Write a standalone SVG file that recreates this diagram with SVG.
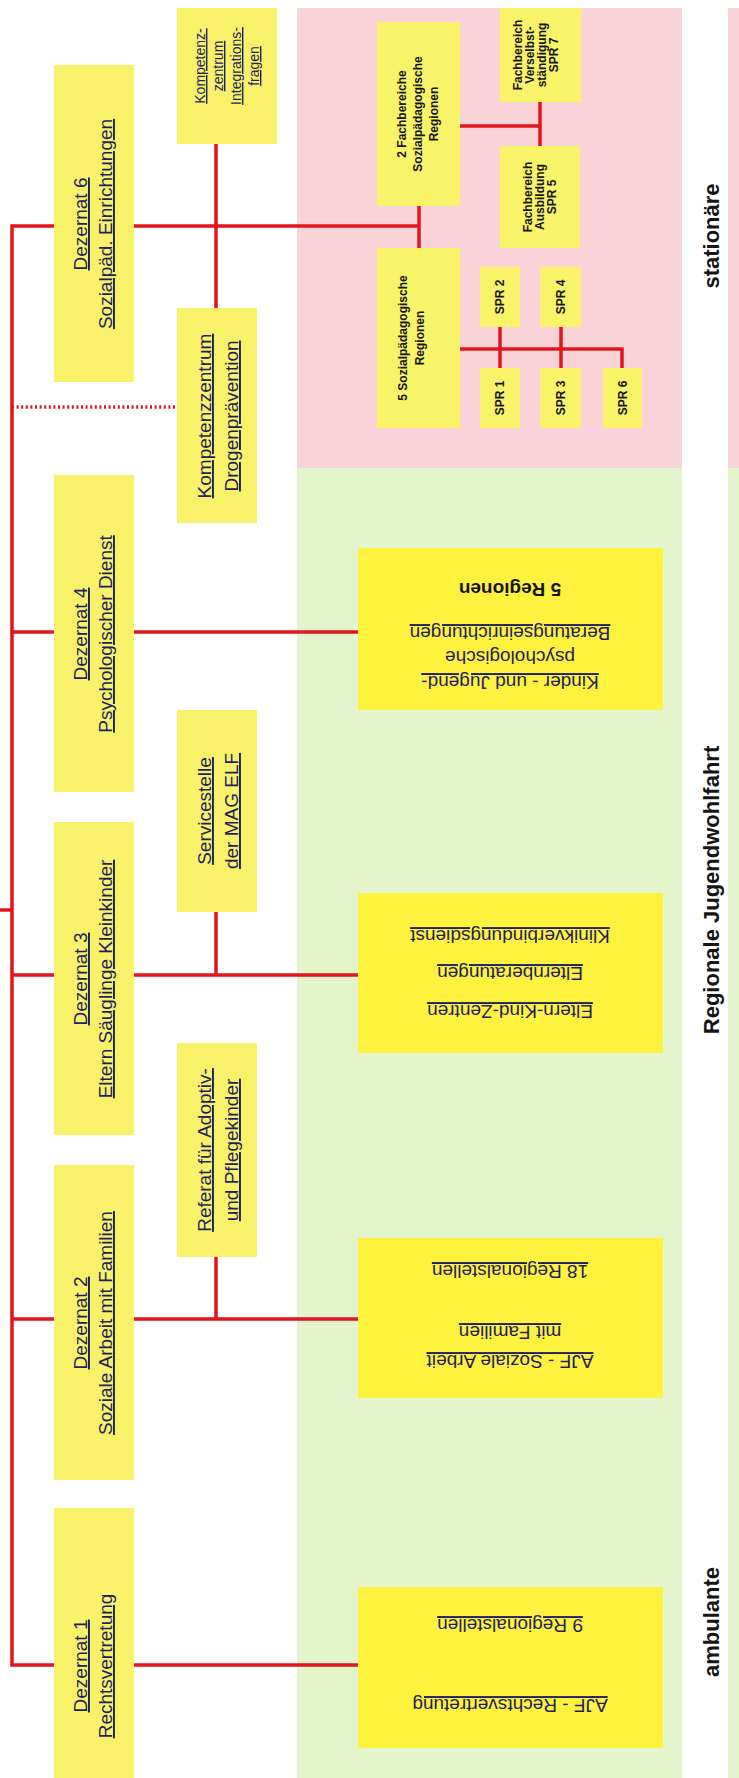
<svg xmlns="http://www.w3.org/2000/svg" width="739" height="1778" viewBox="0 0 739 1778">
<style>
.dz{fill:#f9f16a}
.bx{fill:#fff23f}
.sb{fill:#f9f36a}
.t{font-family:"Liberation Sans",Arial,sans-serif;font-size:19px;fill:#1f1f5c;text-anchor:middle}
.u{text-decoration:underline}
.sm{font-size:14px}
.b{font-weight:bold;fill:#151515}
.s{font-size:12px}
.lbl{font-family:"Liberation Sans",Arial,sans-serif;font-size:22px;font-weight:bold;fill:#151515;text-anchor:middle}
.c{stroke:#e2141c;stroke-width:3.5;fill:none}
.d{stroke:#e2141c;stroke-width:3.5;fill:none;stroke-dasharray:2 2.6}
</style>
<rect width="739" height="1778" fill="#ffffff"/>
<g id="bands">
<rect x="297" y="8" width="385" height="460" fill="#f8d4d8"/>
<rect x="297" y="468" width="385" height="1310" fill="#e4f4cb"/>
<rect x="728" y="8" width="11" height="460" fill="#f8d4d8"/>
<rect x="728" y="468" width="11" height="1310" fill="#e4f4cb"/>
</g>
<g id="connectors">
<path class="c" d="M54,226 H12 V1665 H54"/>
<path class="c" d="M0,910 H12"/>
<path class="c" d="M134,226 H419 M419,206 V248 M216,144 V308"/>
<path class="d" d="M12,407 H177"/>
<path class="c" d="M12,632 H54 M134,632 H358"/>
<path class="c" d="M12,975 H54 M134,975 H358 M216,912 V975"/>
<path class="c" d="M12,1319 H54 M134,1319 H358 M216,1257 V1319"/>
<path class="c" d="M134,1665 H358"/>
<path class="c" d="M460,126 H540 M540,102 V146"/>
<path class="c" d="M460,349 H622 V368 M500,327 V368 M561,327 V368"/>
</g>
<g id="dezernat6">
<rect class="dz" x="54" y="65" width="80" height="317"/>
<text class="t u" transform="translate(87,224) rotate(-90)">Dezernat 6</text>
<text class="t u" transform="translate(112,224) rotate(-90)">Sozialpäd. Einrichtungen</text>
</g>
<g id="dezernat4">
<rect class="dz" x="54" y="475" width="80" height="317"/>
<text class="t u" transform="translate(87,634) rotate(-90)">Dezernat 4</text>
<text class="t u" transform="translate(112,634) rotate(-90)">Psychologischer Dienst</text>
</g>
<g id="dezernat3">
<rect class="dz" x="54" y="822" width="80" height="313"/>
<text class="t u" transform="translate(87,979) rotate(-90)">Dezernat 3</text>
<text class="t u" transform="translate(112,979) rotate(-90)">Eltern Säuglinge Kleinkinder</text>
</g>
<g id="dezernat2">
<rect class="dz" x="54" y="1165" width="80" height="315"/>
<text class="t u" transform="translate(87,1323) rotate(-90)">Dezernat 2</text>
<text class="t u" transform="translate(112,1323) rotate(-90)">Soziale Arbeit mit Familien</text>
</g>
<g id="dezernat1">
<rect class="dz" x="54" y="1508" width="80" height="270"/>
<text class="t u" transform="translate(87,1666) rotate(-90)">Dezernat 1</text>
<text class="t u" transform="translate(112,1666) rotate(-90)">Rechtsvertretung</text>
</g>
<g id="komp-integration">
<rect class="dz" x="177" y="8" width="100" height="136"/>
<text class="t u sm" transform="translate(205,66) rotate(-90)">Kompetenz-</text>
<text class="t u sm" transform="translate(223,66) rotate(-90)">zentrum</text>
<text class="t u sm" transform="translate(241,66) rotate(-90)">Integrations-</text>
<text class="t u sm" transform="translate(259,66) rotate(-90)">fragen</text>
</g>
<g id="komp-drogen">
<rect class="dz" x="177" y="308" width="80" height="215"/>
<text class="t u" transform="translate(211,416) rotate(-90)">Kompetenzzentrum</text>
<text class="t u" transform="translate(238,416) rotate(-90)">Drogenprävention</text>
</g>
<g id="servicestelle">
<rect class="dz" x="177" y="710" width="80" height="202"/>
<text class="t u" transform="translate(211,811) rotate(-90)">Servicestelle</text>
<text class="t u" transform="translate(238,811) rotate(-90)">der MAG ELF</text>
</g>
<g id="referat">
<rect class="dz" x="177" y="1043" width="80" height="214"/>
<text class="t u" transform="translate(211,1150) rotate(-90)">Referat für Adoptiv-</text>
<text class="t u" transform="translate(238,1150) rotate(-90)">und Pflegekinder</text>
</g>
<g id="fachbereiche2">
<rect class="sb" x="377" y="22" width="83" height="184"/>
<text class="t b s" transform="translate(406,114) rotate(-90)">2 Fachbereiche</text>
<text class="t b s" transform="translate(422,114) rotate(-90)">Sozialpädagogische</text>
<text class="t b s" transform="translate(438,114) rotate(-90)">Regionen</text>
</g>
<g id="regionen5">
<rect class="sb" x="377" y="248" width="83" height="180"/>
<text class="t b s" transform="translate(407,338) rotate(-90)">5 Sozialpädagogische</text>
<text class="t b s" transform="translate(424,338) rotate(-90)">Regionen</text>
</g>
<g id="spr7">
<rect class="sb" x="500" y="8" width="81" height="94"/>
<text class="t b s" transform="translate(522,55) rotate(-90)">Fachbereich</text>
<text class="t b s" transform="translate(534,55) rotate(-90)">Verselbst-</text>
<text class="t b s" transform="translate(546,55) rotate(-90)">ständigung</text>
<text class="t b s" transform="translate(558,55) rotate(-90)">SPR 7</text>
</g>
<g id="spr5">
<rect class="sb" x="500" y="146" width="80" height="102"/>
<text class="t b s" transform="translate(532,197) rotate(-90)">Fachbereich</text>
<text class="t b s" transform="translate(544,197) rotate(-90)">Ausbildung</text>
<text class="t b s" transform="translate(556,197) rotate(-90)">SPR 5</text>
</g>
<g id="spr2">
<rect class="sb" x="480" y="267" width="40" height="60"/>
<text class="t b s" transform="translate(504,297) rotate(-90)">SPR 2</text>
</g>
<g id="spr4">
<rect class="sb" x="540" y="267" width="41" height="60"/>
<text class="t b s" transform="translate(565,297) rotate(-90)">SPR 4</text>
</g>
<g id="spr1">
<rect class="sb" x="480" y="368" width="40" height="60"/>
<text class="t b s" transform="translate(504,398) rotate(-90)">SPR 1</text>
</g>
<g id="spr3">
<rect class="sb" x="540" y="368" width="41" height="60"/>
<text class="t b s" transform="translate(565,398) rotate(-90)">SPR 3</text>
</g>
<g id="spr6">
<rect class="sb" x="603" y="368" width="39" height="60"/>
<text class="t b s" transform="translate(627,398) rotate(-90)">SPR 6</text>
</g>
<g id="kinder-jugend">
<rect class="bx" x="358" y="548" width="305" height="162"/>
<text class="t u" transform="translate(510,676) rotate(180)">Kinder - und Jugend-</text>
<text class="t" transform="translate(510,651) rotate(180)">psychologische</text>
<text class="t u" transform="translate(510,627) rotate(180)">Beratungseinrichtungen</text>
<text class="t b" transform="translate(510,583) rotate(180)">5 Regionen</text>
</g>
<g id="eltern-kind">
<rect class="bx" x="358" y="893" width="305" height="160"/>
<text class="t u" transform="translate(510,1005) rotate(180)">Eltern-Kind-Zentren</text>
<text class="t u" transform="translate(510,967) rotate(180)">Elternberatungen</text>
<text class="t u" transform="translate(510,930) rotate(180)">Klinikverbindungsdienst</text>
</g>
<g id="ajf-soziale-arbeit">
<rect class="bx" x="358" y="1238" width="305" height="160"/>
<text class="t u" transform="translate(510,1355) rotate(180)">AJF - Soziale Arbeit</text>
<text class="t u" transform="translate(510,1326) rotate(180)">mit Familien</text>
<text class="t u" transform="translate(510,1265) rotate(180)">18 Regionalstellen</text>
</g>
<g id="ajf-recht">
<rect class="bx" x="358" y="1587" width="305" height="161"/>
<text class="t u" transform="translate(510,1699) rotate(180)">AJF - Rechtsvertretung</text>
<text class="t u" transform="translate(510,1619) rotate(180)">9 Regionalstellen</text>
</g>
<g id="labels">
<text class="lbl" transform="translate(719,236) rotate(-90)">stationäre</text>
<text class="lbl" transform="translate(719,890) rotate(-90)">Regionale Jugendwohlfahrt</text>
<text class="lbl" transform="translate(719,1622) rotate(-90)">ambulante</text>
</g>
</svg>
